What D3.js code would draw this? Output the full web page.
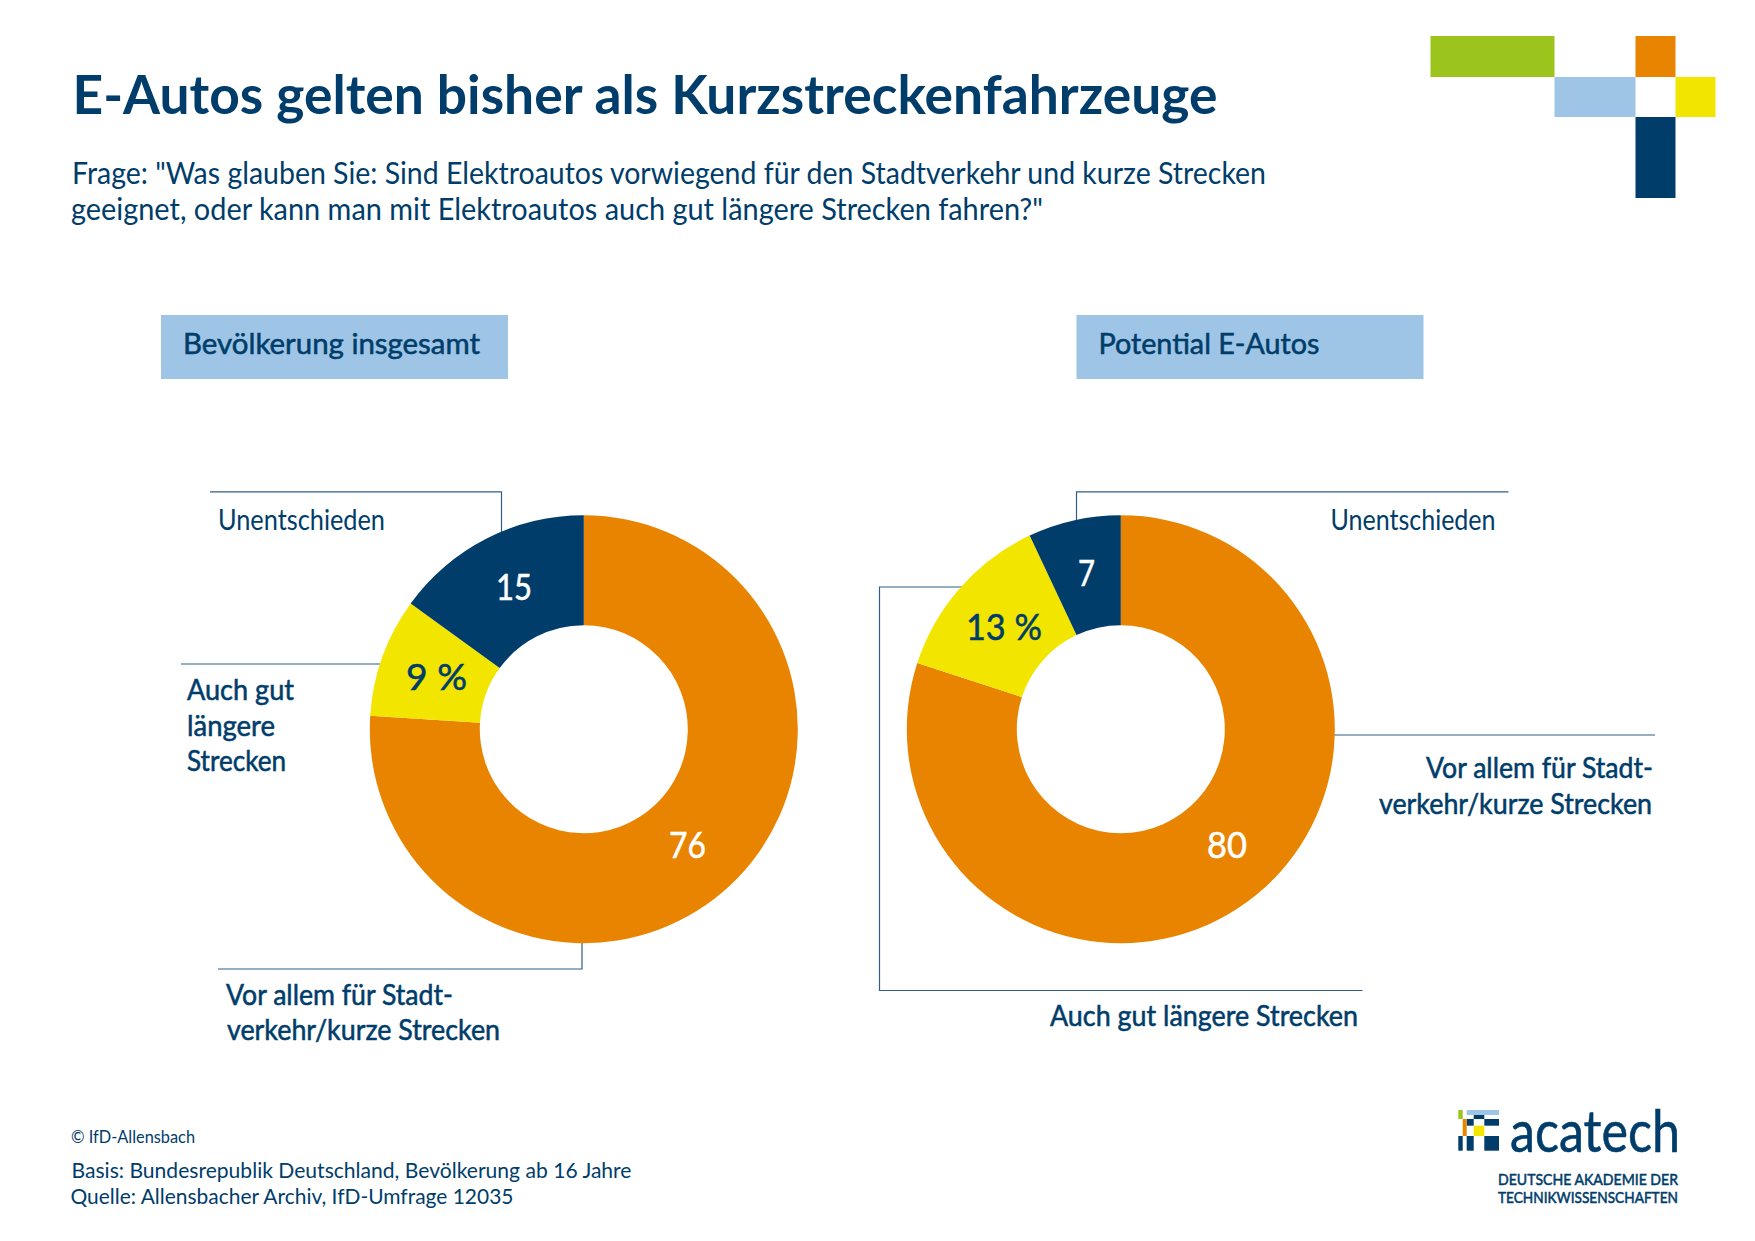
<!DOCTYPE html>
<html>
<head>
    <title>E-Autos gelten bisher als Kurzstreckenfahrzeuge</title>
    <script src="https://d3js.org/d3.v7.min.js"></script>
    <style>
        html, body { margin: 0; padding: 0; background: #fff; }
        text { font-family: Lato, "Noto Sans", sans-serif; fill: #003d6a; }
    </style>
</head>
<body>
<script type="text/javascript">
    const w = 1755;
    const h = 1241;

    const categories = ['Vor allem für Stadtverkehr/kurze Strecken', 'Auch gut längere Strecken', 'Unentschieden'];
    const gesamtValues = [76, 9, 15];
    const potentialValues = [80, 13, 7];
    const gesamtTicks = ['76', '9 %', '15'];
    const potentialTicks = ['80', '13 %', '7'];

    const navy = '#003d6a';
    const orange = '#e98400';
    const yellow = '#f2e500';
    const lightBlue = '#9fc5e6';
    const green = '#9bc41d';
    const lineColor = '#2f5f86';

    const color = d3.scaleOrdinal().domain(categories).range([orange, yellow, navy]);

    const svg = d3.select('body').append('svg')
        .attr('width', w)
        .attr('height', h)
        .style('display', 'block');

    // x = left edge, width = measured in the reference, so the narrow look is kept
    function label(x, y, width, size, weight, str, fill) {
        const t = svg.append('text')
            .attr('x', x)
            .attr('y', y)
            .attr('font-size', size)
            .attr('font-weight', weight === 500 ? 400 : weight)
            .attr('textLength', width)
            .attr('lengthAdjust', 'spacingAndGlyphs')
            .style('fill', fill || navy)
            .text(str);
        // no medium cut of the font here, so thicken the regular one
        if (weight === 500) {
            t.style('stroke', fill || navy).style('stroke-width', 0.55);
        }
        return t;
    }

    function leader(points) {
        svg.append('path')
            .attr('d', d3.line()(points))
            .attr('fill', 'none')
            .attr('stroke', lineColor)
            .attr('stroke-width', 1.2);
    }

    function box(x, y, width, height, fill) {
        svg.append('rect')
            .attr('x', x)
            .attr('y', y)
            .attr('width', width)
            .attr('height', height)
            .attr('fill', fill);
    }

    function donut(cx, cy, values) {
        const pie = d3.pie().sort(null).value(d => d);
        const arc = d3.arc().innerRadius(104).outerRadius(214);
        svg.append('g')
            .attr('transform', `translate(${cx},${cy})`)
            .selectAll('path')
            .data(pie(values))
            .enter()
            .append('path')
            .attr('d', arc)
            .attr('fill', (d, i) => color(categories[i]));
    }

    // corner logo
    box(1430.5, 36, 124, 41, green);
    box(1635.5, 36, 40, 41, orange);
    box(1554.5, 77, 81, 40, lightBlue);
    box(1675.5, 77, 40, 40, yellow);
    box(1635.5, 117, 40, 81, navy);

    // heading
    label(72.5, 114, 1145, 54, 700, 'E-Autos gelten bisher als Kurzstreckenfahrzeuge');
    label(72, 183.5, 1194, 30, 400, 'Frage: "Was glauben Sie: Sind Elektroautos vorwiegend für den Stadtverkehr und kurze Strecken');
    label(71, 219.5, 972, 30, 400, 'geeignet, oder kann man mit Elektroautos auch gut längere Strecken fahren?"');

    // panel headers
    box(161, 315, 347, 64, lightBlue);
    box(1076.5, 315, 347, 64, lightBlue);
    label(183, 353.5, 297, 29, 500, 'Bevölkerung insgesamt');
    label(1098.5, 353.5, 221, 29, 500, 'Potential E-Autos');

    // left donut
    leader([[210, 491.8], [501.5, 491.8], [501.5, 536]]);
    leader([[181, 664], [382, 664]]);
    leader([[218, 969], [582, 969], [582, 940]]);
    donut(583.8, 729.2, gesamtValues);

    label(218, 529.5, 167, 29, 400, categories[2]);
    label(187, 699.5, 107, 29, 500, 'Auch gut');
    label(187, 735.5, 88, 29, 500, 'längere');
    label(187, 770.5, 99, 29, 500, 'Strecken');
    label(226, 1004.5, 227, 29, 500, 'Vor allem für Stadt-');
    label(227, 1039.5, 273, 29, 500, 'verkehr/kurze Strecken');

    label(496, 599.5, 36, 37, 500, gesamtTicks[2], '#fff');
    label(406, 689.5, 61, 37, 500, gesamtTicks[1]);
    label(669, 857.5, 37, 37, 500, gesamtTicks[0], '#fff');

    // right donut
    leader([[1076.5, 535], [1076.5, 491.8], [1508.5, 491.8]]);
    leader([[965, 587], [879.5, 587], [879.5, 990.5], [1362.5, 990.5]]);
    leader([[1330, 735], [1655, 735]]);
    donut(1120.8, 729.2, potentialValues);

    label(1330.5, 529.5, 165, 29, 400, categories[2]);
    label(1426, 777.5, 227, 29, 500, 'Vor allem für Stadt-');
    label(1379, 814, 273, 29, 500, 'verkehr/kurze Strecken');
    label(1050, 1026, 308, 29, 500, 'Auch gut längere Strecken');

    label(1078, 586, 17, 37, 500, potentialTicks[2], '#fff');
    label(966, 640, 76, 37, 500, potentialTicks[1]);
    label(1207, 857.5, 40, 37, 500, potentialTicks[0], '#fff');

    // footer
    label(71, 1143, 124, 18, 400, '© IfD-Allensbach');
    label(71.5, 1177.5, 560, 22, 400, 'Basis: Bundesrepublik Deutschland, Bevölkerung ab 16 Jahre');
    label(70.5, 1203.5, 443, 22, 400, 'Quelle: Allensbacher Archiv, IfD-Umfrage 12035');

    // acatech logo
    box(1458.3, 1110, 4.4, 9, green);
    box(1466.7, 1110, 32.3, 5, lightBlue);
    box(1473.7, 1115, 10.6, 4, navy);
    box(1466.7, 1119, 7, 6.7, navy);
    box(1484.3, 1119, 14.7, 6.7, navy);
    box(1462.7, 1119, 4, 17, orange);
    box(1473.7, 1125.7, 10.6, 10.3, yellow);
    box(1458.3, 1136, 4.4, 14.7, navy);
    box(1466.7, 1136, 7, 14.7, navy);
    box(1484.3, 1136, 14.7, 14.7, navy);

    label(1510, 1152, 170, 58, 500, 'acatech');
    label(1498, 1185, 180, 15.5, 500, 'DEUTSCHE AKADEMIE DER');
    label(1498, 1203, 180, 15.5, 500, 'TECHNIKWISSENSCHAFTEN');
</script>
</body>
</html>
